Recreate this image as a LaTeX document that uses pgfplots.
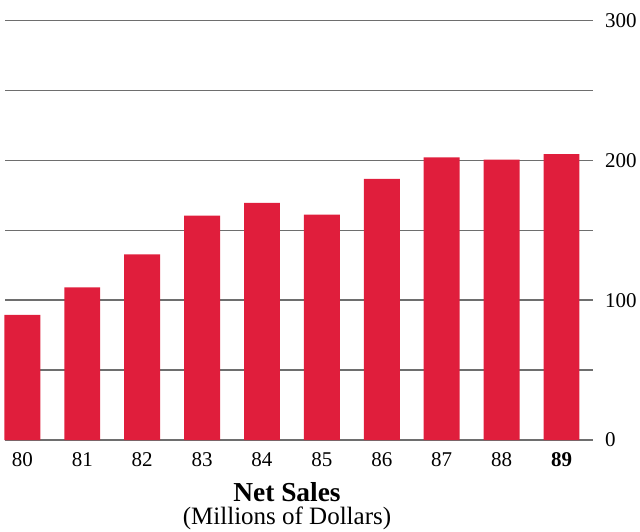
\documentclass[border=0pt]{standalone}
\usepackage{pgfplots}
\pgfplotsset{compat=1.18}
\usepackage{fontspec}
\setmainfont{Liberation Serif}
\definecolor{barred}{RGB}{224,30,60}
\definecolor{gridgray}{RGB}{110,110,110}
\begin{document}
\begin{tikzpicture}
\path[use as bounding box] (0,0) rectangle (320pt,265.5pt);
\begin{axis}[
  at={(2.5pt,45.5pt)}, anchor=south west,
  scale only axis, width=294pt, height=209.75pt,
  xmin=79.71, xmax=89.526, ymin=0, ymax=300,
  axis line style={draw=none},
  major tick length=0pt,
  ymajorgrids, grid style={gridgray, line width=0.7pt},
  ytick={0,50,100,150,200,250,300},
  yticklabels={0,,100,,200,,300},
  yticklabel pos=right,
  yticklabel style={anchor=west, xshift=2.5pt},
  xtick={80,81,82,83,84,85,86,87,88,89},
  xticklabels={80,81,82,83,84,85,86,87,88,\textbf{89}},
  xticklabel style={yshift=-2.5pt},
  tick label style={font=\fontsize{10.5}{12}\selectfont},
  xlabel={{\fontsize{13.7}{14}\selectfont\bfseries Net Sales}\\[-0.5pt]{\fontsize{12.5}{13}\selectfont (Millions of Dollars)}},
  xlabel style={align=center, xshift=-6pt, yshift=-1.5pt},
  clip=false,
]
\addplot[ybar, fill=barred, draw=none, bar width=0.6] coordinates {
 (80,89.4) (81,109.2) (82,132.8) (83,160.5) (84,169.5) (85,161.2) (86,186.7) (87,202.2) (88,200.5) (89,204.4)
};
\end{axis}
\end{tikzpicture}
\end{document}
